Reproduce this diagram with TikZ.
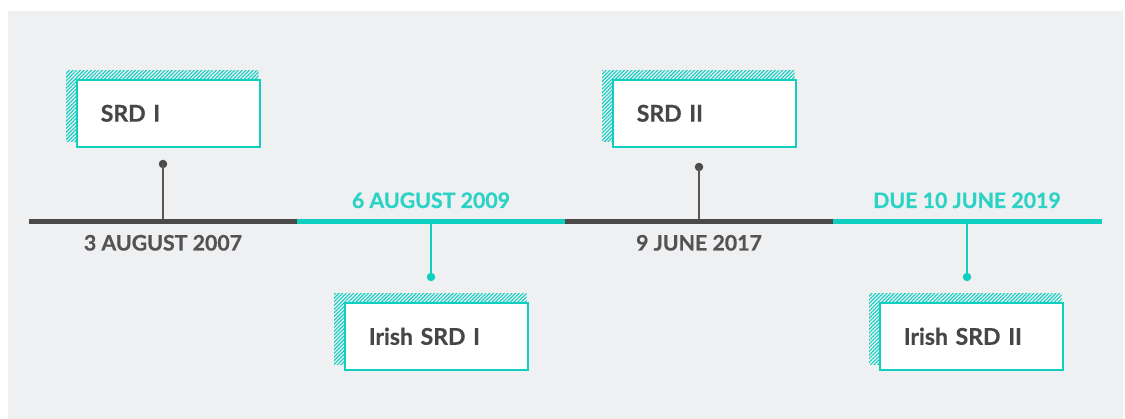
\documentclass[tikz,border=0pt]{standalone}
\usepackage{fontspec}
\setmainfont{Lato}[BoldFeatures={FakeBold=0.6}]
\usetikzlibrary{patterns.meta,calc}
\definecolor{tealc}{HTML}{0FCFC1}
\definecolor{tealt}{HTML}{2AD3C5}
\definecolor{darkc}{HTML}{4C4A48}
\definecolor{stemc}{HTML}{5A5856}
\definecolor{bgc}{HTML}{EFF0F2}
\definecolor{txtc}{HTML}{474545}
\definecolor{datec}{HTML}{545252}
\pgfdeclarelayer{bglayer}
\pgfdeclarelayer{shdlayer}
\pgfsetlayers{bglayer,shdlayer,main}
\begin{document}
\begin{tikzpicture}[x=1pt,y=-1pt,
  card/.style={draw=tealc, line width=1.6pt, fill=white, minimum height=67pt,
    text width=135pt, inner xsep=24pt, inner ysep=0pt, align=left, anchor=north west,
    text=txtc, font=\fontsize{23}{27}\selectfont\bfseries},
  hatch/.style={pattern={Lines[angle=45,distance=2.6pt,line width=1.1pt]}, pattern color=tealc},
  darkseg/.style={draw=darkc, line width=5pt},
  tealseg/.style={draw=tealc, line width=5pt},
  darkstem/.style={draw=stemc, line width=1.3pt},
  tealstem/.style={draw=tealc, line width=1.3pt},
  datelbl/.style={anchor=base, font=\fontsize{21.3}{25}\selectfont\bfseries, inner sep=0pt},
  dotd/.style={circle, fill=darkc, inner sep=0pt, minimum size=8.5pt},
  dott/.style={circle, fill=tealc, inner sep=0pt, minimum size=8.5pt}]
\useasboundingbox (0,0) rectangle (1125,419);
\begin{pgfonlayer}{bglayer}
\fill[white] (0,0) rectangle (1125,419);
\fill[bgc] (8,11) rectangle (1123,419);
\end{pgfonlayer}

% timeline points
\coordinate (t0) at (29,221.5);
\coordinate (t1) at (297,221.5);
\coordinate (t2) at (565,221.5);
\coordinate (t3) at (833,221.5);
\coordinate (t4) at (1102,221.5);
\coordinate (p1) at (163,221.5);
\coordinate (p2) at (431,221.5);
\coordinate (p3) at (699,221.5);
\coordinate (p4) at (967,221.5);

% cards
\node[card] (c1) at (76,79) {SRD I};
\node[card] (c2) at (344,302) {Irish SRD I};
\node[card] (c3) at (612,79) {SRD II};
\node[card] (c4) at (879,302) {Irish SRD II};
\begin{pgfonlayer}{shdlayer}
\foreach \c in {c1,c2,c3,c4}
  \fill[hatch] ($(\c.north west)+(-10,-8)$) rectangle ($(\c.south east)+(-2,-6)$);
\end{pgfonlayer}

% dots
\node[dotd] (d1) at (163,164) {};
\node[dott] (d2) at (431,277) {};
\node[dotd] (d3) at (699,167) {};
\node[dott] (d4) at (967,277) {};

% stems
\draw[darkstem] (d1.center) -- (p1);
\draw[tealstem] (p2) -- (d2.center);
\draw[darkstem] (d3.center) -- (p3);
\draw[tealstem] (p4) -- (d4.center);

% timeline
\draw[darkseg] (t0) -- (t1);
\draw[tealseg] (t1) -- (t2);
\draw[darkseg] (t2) -- (t3);
\draw[tealseg] (t3) -- (t4);

% dates
\node[datelbl, text=datec] (l1) at (163,250.5) {3 AUGUST 2007};
\node[datelbl, text=tealt] (l2) at (431,208) {6 AUGUST 2009};
\node[datelbl, text=datec] (l3) at (699,250.5) {9 JUNE 2017};
\node[datelbl, text=tealt] (l4) at (967,208) {DUE 10 JUNE 2019};
\end{tikzpicture}
\end{document}
